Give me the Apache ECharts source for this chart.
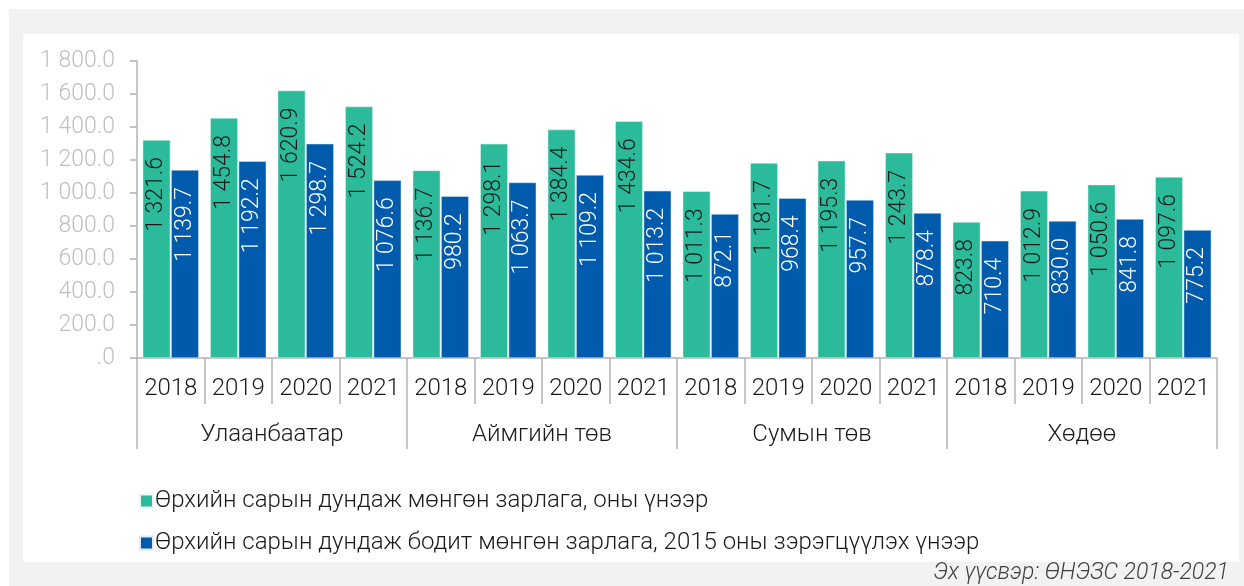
<!DOCTYPE html>
<html>
<head>
<meta charset="utf-8">
<script src="https://cdn.jsdelivr.net/npm/echarts@6/dist/echarts.min.js"></script>
<style>
  html, body { margin: 0; padding: 0; background: #fff; }
  #chart { width: 1244px; height: 586px; }
</style>
</head>
<body>
<div id="chart"></div>
<script>
const GREEN = '#2bbb9b';
const BLUE = '#005bac';
const AXIS_GREY = '#b3b3b3';
const FONT = 'Roboto, "Noto Sans", sans-serif';

const years = ['2018', '2019', '2020', '2021'];
const groups = ['Улаанбаатар', 'Аймгийн төв', 'Сумын төв', 'Хөдөө'];
const seriesNames = [
  'Өрхийн сарын дундаж мөнгөн зарлага, оны үнээр',
  'Өрхийн сарын дундаж бодит мөнгөн зарлага, 2015 оны зэрэгцүүлэх үнээр'
];
const nominal = [
  1321.6, 1454.8, 1620.9, 1524.2,
  1136.7, 1298.1, 1384.4, 1434.6,
  1011.3, 1181.7, 1195.3, 1243.7,
  823.8, 1012.9, 1050.6, 1097.6
];
const real = [
  1139.7, 1192.2, 1298.7, 1076.6,
  980.2, 1063.7, 1109.2, 1013.2,
  872.1, 968.4, 957.7, 878.4,
  710.4, 830.0, 841.8, 775.2
];
const sourceText = 'Эх үүсвэр: ӨНЭЗС 2018-2021';

// 16 year ticks, one run of years per group
const yearCats = groups.flatMap(() => years);

function fmt(v) {
  if (v === 0) return '.0';
  const [i, d] = v.toFixed(1).split('.');
  return i.replace(/\B(?=(\d{3})+(?!\d))/g, ' ') + '.' + d;
}

const barLabel = (color) => ({
  show: true,
  position: 'insideTop',
  rotate: 90,
  align: 'right',
  verticalAlign: 'middle',
  distance: 17,
  color: color,
  fontFamily: FONT,
  fontWeight: 300,
  fontSize: 23,
  formatter: (p) => fmt(p.value)
});

const chart = echarts.init(document.getElementById('chart'));

chart.setOption({
  animation: false,
  textStyle: { fontFamily: FONT },
  graphic: [
    { type: 'rect', z: -10, silent: true, shape: { x: 9, y: 9, width: 1235, height: 577 }, style: { fill: '#f2f2f2' } },
    { type: 'rect', z: -9, silent: true, shape: { x: 23, y: 34, width: 1216, height: 528 }, style: { fill: '#ffffff' } },
    {
      type: 'text', right: 15, top: 562,
      style: { text: sourceText, font: 'italic 300 23px Roboto, sans-serif', fill: '#404040' }
    }
  ],
  legend: {
    orient: 'vertical',
    left: 134,
    top: 484,
    itemGap: 18,
    itemWidth: 13,
    itemHeight: 13,
    icon: 'rect',
    textStyle: { fontSize: 24, fontWeight: 300, color: '#1a1a1a', padding: [0, 0, 0, -3] },
    data: seriesNames
  },
  grid: { left: 137, right: 27, top: 61, bottom: 228 },
  xAxis: [
    {
      type: 'category',
      data: yearCats,
      axisLine: { show: true, lineStyle: { color: AXIS_GREY, width: 1.5 } },
      axisTick: { show: true, interval: 0, length: 46, lineStyle: { color: AXIS_GREY, width: 1.5 } },
      axisLabel: { interval: 0, margin: 19, fontSize: 24, fontWeight: 300, color: '#1a1a1a' }
    },
    {
      type: 'category',
      data: groups,
      position: 'bottom',
      axisLine: { show: false },
      axisTick: { show: true, interval: 0, length: 91, lineStyle: { color: AXIS_GREY, width: 1.5 } },
      axisLabel: { interval: 0, margin: 65, fontSize: 24, fontWeight: 300, color: '#1a1a1a' }
    }
  ],
  yAxis: {
    type: 'value',
    min: 0,
    max: 1800,
    interval: 200,
    splitLine: { show: false },
    axisLine: { show: true, lineStyle: { color: AXIS_GREY, width: 1.5 } },
    axisTick: { show: true, length: 7, lineStyle: { color: AXIS_GREY, width: 1.5 } },
    axisLabel: { margin: 22, fontSize: 23, fontWeight: 300, color: '#bfbfbf', formatter: fmt }
  },
  series: [
    {
      name: seriesNames[0],
      type: 'bar',
      data: nominal,
      barCategoryGap: '17%',
      barGap: '3%',
      itemStyle: { color: GREEN, borderColor: '#e8f7f3', borderWidth: 0.5 },
      label: barLabel('#1a1a1a')
    },
    {
      name: seriesNames[1],
      type: 'bar',
      data: real,
      barCategoryGap: '17%',
      barGap: '3%',
      itemStyle: { color: BLUE, borderColor: '#dfe9f5', borderWidth: 0.5 },
      label: barLabel('#ffffff')
    }
  ]
});
</script>
</body>
</html>
